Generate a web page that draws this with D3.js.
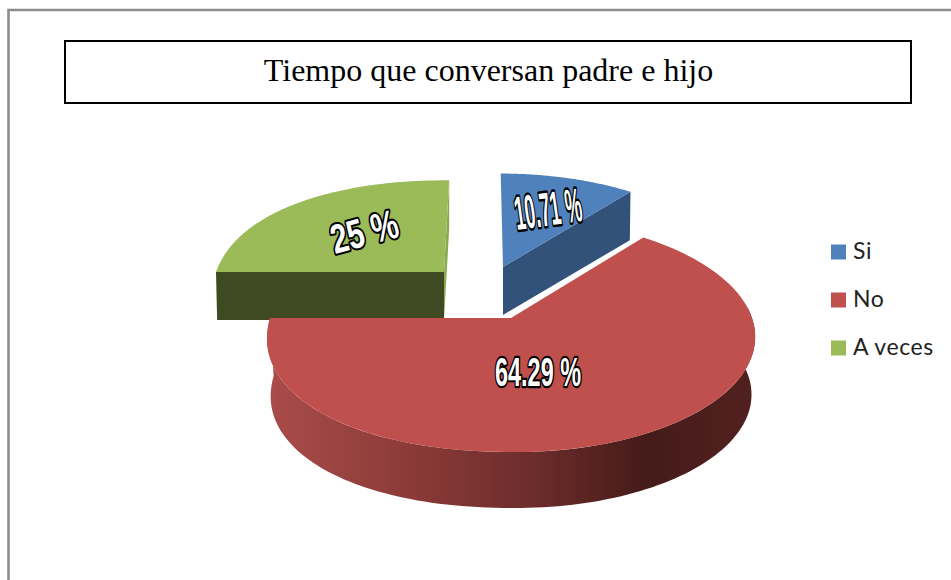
<!DOCTYPE html>
<html>
<head>
<meta charset="utf-8">
<script src="https://cdn.jsdelivr.net/npm/d3@7"></script>
<style>
html, body { margin: 0; padding: 0; background: #fff; overflow: hidden; }
svg { display: block; }
.pct { font-family: "Liberation Sans", sans-serif; font-weight: bold; font-size: 34px; fill: #fff; stroke: #000; stroke-width: 3.6px; paint-order: stroke; stroke-linejoin: round; }
</style>
</head>
<body>
<div id="chart"></div>
<script>
var titleText = "Tiempo que conversan padre e hijo";
var categories = ["Si", "No", "A veces"];
var values = [10.71, 64.29, 25];
var labels = ["10.71 %", "64.29 %", "25 %"];
var topColors = ["#4F81BD", "#C0504D", "#9BBB59"];
var faceColors = ["#325279", "#7a3230", "#3f4a22"];

var width = 951, height = 580;

var svg = d3.select("#chart").append("svg")
	.attr("width", width)
	.attr("height", height);

var color = d3.scaleOrdinal().domain(categories).range(topColors);
var faceColor = d3.scaleOrdinal().domain(categories).range(faceColors);

// outer frame of the picture, only top and left show
svg.append("path")
	.attr("d", "M8.5,580V10H951")
	.attr("fill", "none")
	.attr("stroke", "#8c8c8c")
	.attr("stroke-width", 2.6);

// title box
svg.append("rect")
	.attr("x", 65).attr("y", 41)
	.attr("width", 846).attr("height", 62)
	.attr("fill", "#fff")
	.attr("stroke", "#000")
	.attr("stroke-width", 2);

svg.append("text")
	.attr("x", 488.5).attr("y", 81)
	.attr("text-anchor", "middle")
	.attr("font-family", "Liberation Serif, serif")
	.attr("font-size", 32)
	.text(titleText);

// gradient for the rim of the big slice
var defs = svg.append("defs");
var grad = defs.append("linearGradient")
	.attr("id", "rimNo")
	.attr("gradientUnits", "userSpaceOnUse")
	.attr("x1", 268).attr("x2", 755).attr("y1", 0).attr("y2", 0);
[[0, "#aa4c49"], [0.3, "#8a3a38"], [0.55, "#6b2c2a"], [0.78, "#441b19"], [1, "#52211f"]].forEach(function(s) {
	grad.append("stop").attr("offset", s[0]).attr("stop-color", s[1]);
});

// every slice has its own apex because of the explosion
var geometry = {
	"Si": {ox: 503, oy: 267, a: 231, b: 107, depth: 48, back: 0.995},
	"No": {ox: 511, oy: 318, a: 241, b: 114.6, depth: 58, back: 0.985},
	"A veces": {ox: 444, oy: 272, a: 228, b: 105, depth: 48, back: 0.995}
};
var k = 0.145, vanishX = 485;

// perspective projection of a point of the unit disc
function project(g, r, theta, low) {
	var u = r * Math.sin(theta), v = r * Math.cos(theta);
	// left half of the disc is a bit fuller than a true ellipse
	if (u < 0 && r > 0) {
		u = -Math.pow(-u, 0.92);
		v = (v < 0 ? -1 : 1) * Math.pow(Math.abs(v), 0.92);
	}
	var w = 1 + k * v;
	var s = low ? g.back : 1;
	return [
		g.ox + s * g.a * u / w + (vanishX - g.ox) * k * v / w,
		g.oy + (low ? g.depth : 0) - s * g.b * v / w
	];
}

var line = d3.line();

function rim(g, a0, a1, low) {
	return d3.range(0, 121).map(function(i) {
		return project(g, 1, a0 + (a1 - a0) * i / 120, low);
	});
}

var arcs = d3.pie().sort(null)(values);

function drawSlice(i) {
	var d = arcs[i], name = categories[i], g = geometry[name];
	var a0 = d.startAngle, a1 = d.endAngle;
	var layer = svg.append("g").attr("class", "slice");

	if (name === "No") {
		// curved wall, the front half of the disc
		var from = Math.max(a0, Math.PI * 0.47), to = Math.min(a1, Math.PI * 1.5);
		layer.append("path")
			.attr("d", line(rim(g, from, to, false).concat(rim(g, to, from, true))) + "Z")
			.attr("fill", "url(#rimNo)");
	} else if (name === "Si") {
		// cut face on the right side
		var pts = [project(g, 0, 0, false), project(g, 1, a1, false), project(g, 1, a1, true), project(g, 0, 0, true)];
		layer.append("path").attr("d", line(pts) + "Z").attr("fill", faceColor(name));
	} else {
		// cut face on the left side and the sliver at the back
		var left = [project(g, 0, 0, false), project(g, 1, a0, false), project(g, 1, a0, true), project(g, 0, 0, true)];
		layer.append("path").attr("d", line(left) + "Z").attr("fill", faceColor(name));
		var sliver = [project(g, 0, 0, false), project(g, 1, a1, false), project(g, 1, a1, true), project(g, 0, 0, true)];
		layer.append("path").attr("d", line(sliver) + "Z").attr("fill", "#8aa84e");
	}

	layer.append("path")
		.attr("d", line([project(g, 0, 0, false)].concat(rim(g, a0, a1, false))) + "Z")
		.attr("fill", color(name));
}

// back slices first
drawSlice(2);
drawSlice(0);
drawSlice(1);

// percent labels are stretched and tilted like in the 3D picture
var labelTransforms = [
	"translate(517,230) rotate(-8) scale(0.54,1.4)",
	"translate(495,386) scale(0.69,1.2)",
	"translate(335,254) rotate(-15) scale(0.88,1.2)"
];
svg.selectAll("text.pct")
	.data(labels)
	.enter().append("text")
	.attr("class", "pct")
	.attr("transform", function(d, i) { return labelTransforms[i]; })
	.text(function(d) { return d; });

// legend
var legendY = d3.scalePoint().domain(categories).range([252, 348]);
var legend = svg.selectAll("g.legend")
	.data(categories)
	.enter().append("g")
	.attr("class", "legend")
	.attr("transform", function(d) { return "translate(831," + legendY(d) + ")"; });

legend.append("rect")
	.attr("y", -7.5)
	.attr("width", 15).attr("height", 15)
	.attr("fill", function(d) { return color(d); });

legend.append("text")
	.attr("x", 22).attr("y", 7)
	.attr("font-family", "Lato, sans-serif")
	.attr("font-size", 23)
	.attr("letter-spacing", 0.6)
	.attr("fill", "#222")
	.text(function(d) { return d; });
</script>
</body>
</html>
